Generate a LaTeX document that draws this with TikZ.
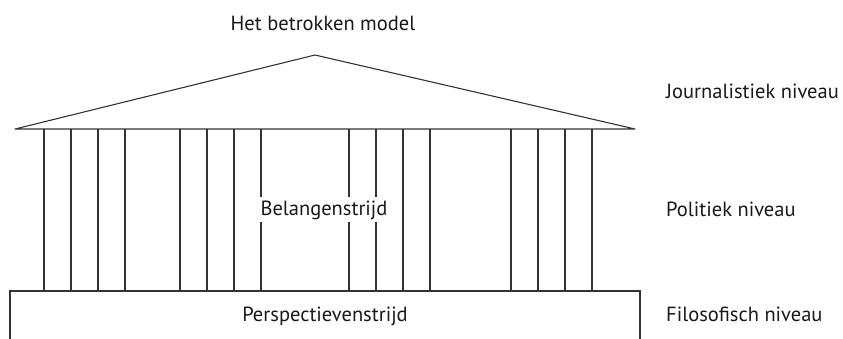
\documentclass[tikz,border=0pt]{standalone}
\usepackage{fontspec}
\setmainfont{PT Sans}
\begin{document}
\begin{tikzpicture}[x=1pt,y=-1pt,
  ln/.style={line width=1.1pt,draw=black!80},
  lbl/.style={font=\fontsize{20.5}{24}\selectfont,inner sep=0pt,text=black!90,anchor=base},
  side/.style={lbl,anchor=base west}]
\useasboundingbox (0,0) rectangle (843,338);
% roof
\draw[ln,line join=round] (15,129) -- (315,55) -- (635,129) -- cycle;
% columns
\foreach \x in {44,71,98,125,180,207,234,261,349,376,403,430,511,538,565,592}
  \draw[ln] (\x,129) -- (\x,291);
% base
\draw[ln] (10,340) -- (10,291) -- (640,291) -- (640,340);
% texts
\node[lbl] (top) at (323,30) {Het betrokken model};
\node[lbl,fill=white,inner xsep=2pt,inner ysep=3pt] (mid) at (324,215) {Belangenstrijd};
\node[lbl] (base) at (325,321.5) {Perspectievenstrijd};
\node[side] (j) at (666,98) {Journalistiek niveau};
\node[side] (p) at (666,216.5) {Politiek niveau};
\node[side] (f) at (666,321.5) {Filosofisch niveau};
\end{tikzpicture}
\end{document}
